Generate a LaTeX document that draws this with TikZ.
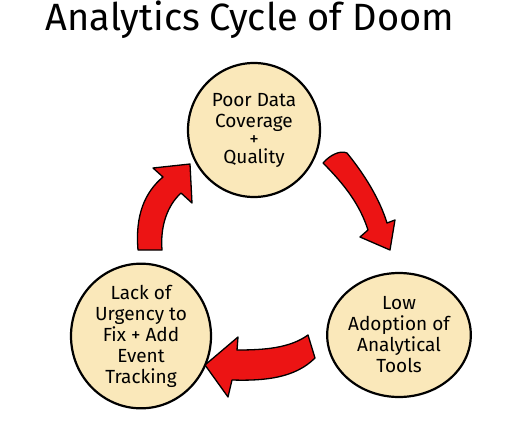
\documentclass[tikz,border=0pt]{standalone}
\usepackage{fontspec}
\setmainfont{Fira Sans}
\usetikzlibrary{shapes.geometric}
\definecolor{cream}{RGB}{250,232,186}
\definecolor{arrowred}{RGB}{236,20,20}
\tikzset{
  stage/.style={ellipse, draw=black, line width=2.2pt, fill=cream, inner sep=0pt,
    align=center, font=\fontsize{19}{21}\selectfont},
  blockarrow/.style={fill=arrowred, draw=black, line width=1.3pt, line join=round},
  titletext/.style={font=\fontsize{38}{38}\selectfont, anchor=base, inner sep=0pt}
}
\begin{document}
\begin{tikzpicture}[x=1pt,y=-1pt]
\useasboundingbox (0,0) rectangle (530,442);
\clip (0,0) rectangle (530,442);
\fill[white] (0,0) rectangle (530,442);
\node[titletext] (title) at (250,30) {Analytics Cycle of Doom};
% stages
\node[stage, minimum width=132pt, minimum height=134pt] (top) at (254,130)
  {Poor Data\\Coverage\\[-3pt]+\\[-3pt]Quality};
\node[stage, minimum width=140pt, minimum height=142pt] (left) at (141,336)
  {Lack of\\Urgency to\\Fix + Add\\Event\\Tracking};
\node[stage, minimum width=138pt, minimum height=124pt] (right) at (399,335)
  {Low\\Adoption of\\Analytical\\Tools};
% arrow left -> top
\draw[blockarrow] (138,250) .. controls (135,215) and (145,192) .. (163,177)
  -- (153,168) -- (190,164) -- (192,203) -- (181,193)
  .. controls (168,205) and (160,225) .. (162,250) -- cycle;
% arrow top -> right
\draw[blockarrow] (323,163) .. controls (345,185) and (360,205) .. (368,230)
  -- (360,237) -- (390,250) -- (395,220) -- (387,223)
  .. controls (380,200) and (365,175) .. (347,153)
  .. controls (340,150) and (330,155) .. cycle;
% arrow right -> left
\draw[blockarrow] (308,335) .. controls (290,348) and (265,350) .. (237,350)
  -- (238,337) -- (205,365) -- (228,397) -- (232,380)
  .. controls (265,381) and (295,378) .. (315,358) -- cycle;
\end{tikzpicture}
\end{document}
